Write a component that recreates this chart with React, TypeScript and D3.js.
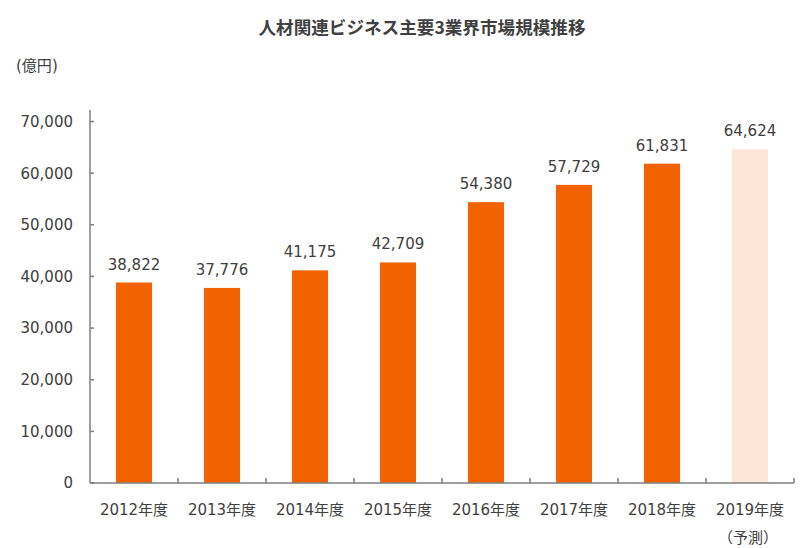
import * as d3 from "d3";

const years = ["2012年度", "2013年度", "2014年度", "2015年度", "2016年度", "2017年度", "2018年度", "2019年度"];
const values = [38822, 37776, 41175, 42709, 54380, 57729, 61831, 64624];
const forecast = [false, false, false, false, false, false, false, true];
const yTicks = [0, 10000, 20000, 30000, 40000, 50000, 60000, 70000];

const W = 800, H = 548;
const left = 90, right = 794, base = 483, top70 = 121.5;
const textColor = "#404040";
const axisColor = "#7f7f7f";
const numFont = "'DejaVu Sans', Verdana, sans-serif";
const jpFont = "'Noto Sans CJK JP', sans-serif";

export default function App() {
  const x = d3.scaleBand<string>().domain(years).range([left, right])
    .paddingInner(0.59).paddingOuter(0.295);
  const y = d3.scaleLinear().domain([0, 70000]).range([base, top70]);
  const fmt = d3.format(",");
  const step = x.step();

  return (
    <svg width={W} height={H} style={{ position: "absolute", left: 0, top: 0, background: "#fff" }}>
      <text x={422} y={34} textAnchor="middle" fontFamily={jpFont} fontWeight="bold"
        fontSize={17.6} fill={textColor}>人材関連ビジネス主要3業界市場規模推移</text>
      <text x={16} y={71} fontSize={15} fill={textColor}>
        <tspan fontFamily={numFont}>(</tspan>
        <tspan fontFamily={jpFont}>億円</tspan>
        <tspan fontFamily={numFont}>)</tspan>
      </text>

      {years.map((yr, i) => (
        <rect key={yr} x={x(yr)} y={y(values[i])} width={x.bandwidth()}
          height={base - y(values[i])} fill={forecast[i] ? "#fde6d8" : "#f26200"} />
      ))}

      {years.map((yr, i) => (
        <text key={"v" + yr} x={x(yr)! + x.bandwidth() / 2} y={y(values[i]) - 13}
          textAnchor="middle" fontFamily={numFont} fontSize={15} fill={textColor}>
          {fmt(values[i])}
        </text>
      ))}

      {/* y axis */}
      <line x1={left} x2={left} y1={110} y2={base} stroke={axisColor} strokeWidth={1.5} />
      {yTicks.map(t => (
        <g key={t}>
          <line x1={left} x2={left + 4} y1={y(t)} y2={y(t)} stroke={axisColor} strokeWidth={1.5} />
          <text x={73} y={y(t)} dy="0.36em" textAnchor="end" fontFamily={numFont}
            fontSize={15} fill={textColor}>{fmt(t)}</text>
        </g>
      ))}

      {/* x axis */}
      <line x1={left} x2={right} y1={base} y2={base} stroke={axisColor} strokeWidth={1.5} />
      {years.map((yr, i) => (
        <line key={"t" + yr} x1={left + step * (i + 1)} x2={left + step * (i + 1)}
          y1={base} y2={base - 5} stroke={axisColor} strokeWidth={1.5} />
      ))}
      {years.map(yr => (
        <text key={"l" + yr} x={x(yr)! + x.bandwidth() / 2} y={515} textAnchor="middle"
          fontSize={15} fill={textColor}>
          <tspan fontFamily={numFont}>{yr.slice(0, 4)}</tspan>
          <tspan fontFamily={jpFont}>{yr.slice(4)}</tspan>
        </text>
      ))}
      <text x={x("2019年度")! + x.bandwidth() / 2 - 2} y={543} textAnchor="middle"
        fontFamily={jpFont} fontSize={15} fill={textColor}>（予測）</text>
    </svg>
  );
}
